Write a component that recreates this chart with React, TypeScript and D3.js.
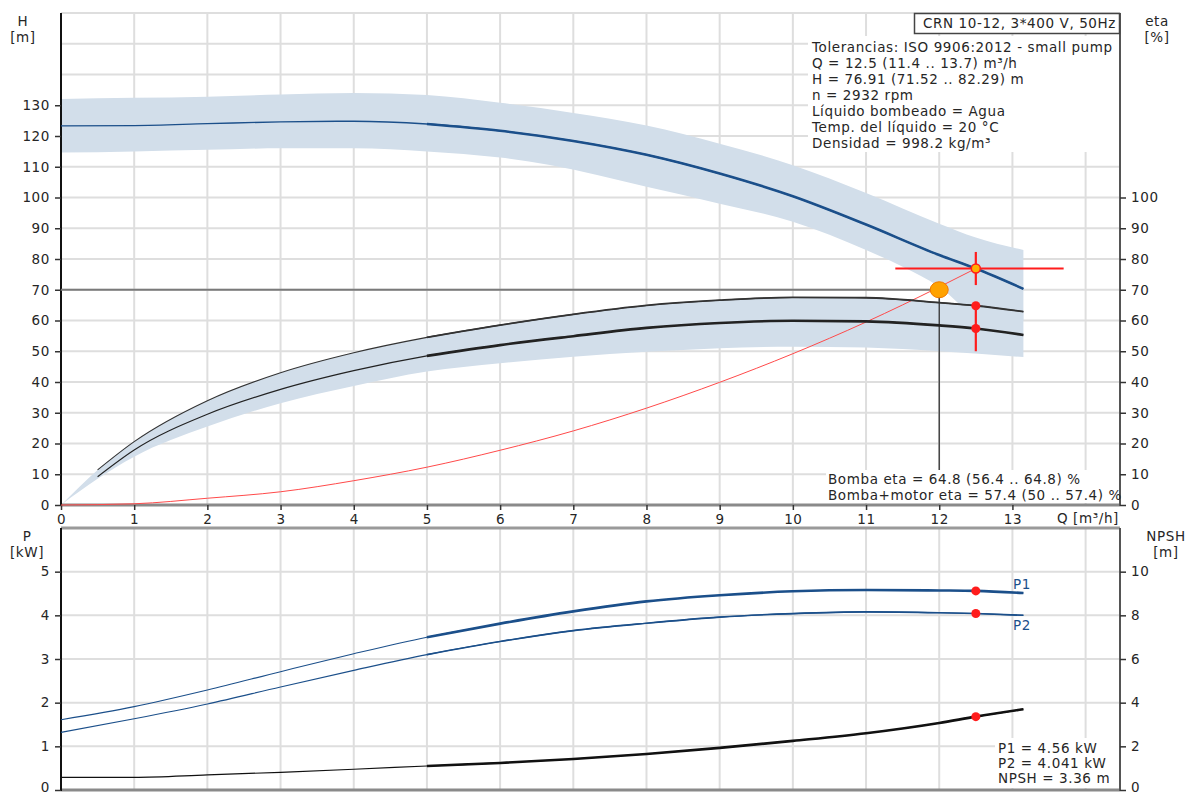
import React, { useEffect, useRef } from "react";
import * as d3 from "d3";

// ticks
const qTicks = [0, 1, 2, 3, 4, 5, 6, 7, 8, 9, 10, 11, 12, 13];
const hTicks = [0, 10, 20, 30, 40, 50, 60, 70, 80, 90, 100, 110, 120, 130];
const etaTicks = [0, 10, 20, 30, 40, 50, 60, 70, 80, 90, 100];
const pTicks = [0, 1, 2, 3, 4, 5];
const npshTicks = [0, 2, 4, 6, 8, 10];

// pump curves
const qCurve = [0, 1, 2, 3, 4, 5, 6, 7, 8, 9, 10, 11, 12, 12.5, 13.15];
const headValues = [123.3, 123.4, 124.0, 124.6, 124.8, 123.9, 121.7, 118.4, 113.9, 107.8, 100.4, 91.2, 81.3, 76.9, 70.3];
const p1Values = [1.61, 1.91, 2.29, 2.71, 3.12, 3.5, 3.81, 4.09, 4.32, 4.46, 4.55, 4.58, 4.57, 4.56, 4.51];
const p2Values = [1.32, 1.63, 1.97, 2.36, 2.74, 3.1, 3.4, 3.65, 3.82, 3.96, 4.04, 4.08, 4.06, 4.041, 4.0];
const npshValues = [0.58, 0.58, 0.69, 0.81, 0.95, 1.1, 1.24, 1.42, 1.65, 1.93, 2.25, 2.6, 3.07, 3.36, 3.7];

// head tolerance band
const qHeadUpper = [0, 1, 2, 3, 4, 5, 6, 7, 8, 9, 10, 11, 12, 12.5, 13.15];
const headUpper = [132, 132.4, 132.8, 133.5, 134, 133.3, 130.8, 127.5, 123.4, 117.5, 110.5, 101.5, 91.5, 87, 82.9];
const qHeadLower = [0, 1, 2, 3, 4, 5, 6, 6.68, 8, 9, 10, 11, 11.5, 12, 12.5, 13.15];
const headLower = [114.6, 115, 115.5, 116, 116, 115, 113, 110.6, 103.5, 98, 92.1, 82.9, 77.5, 71, 62, 60];

// efficiency curves
const qEta = [0.5, 1, 2, 3, 4, 5, 6, 7, 8, 9, 10, 11, 12, 12.5, 13.15];
const etaPump = [11.4, 20.6, 33.9, 43, 49.5, 54.5, 58.5, 62, 64.9, 66.6, 67.5, 67.4, 65.8, 64.8, 62.9];
const etaTotal = [9.2, 17.9, 29.5, 37.6, 43.7, 48.5, 52, 54.9, 57.6, 59.2, 59.9, 59.7, 58.4, 57.4, 55.3];
const qEtaLower = [0, 0.5, 1, 2, 3, 4, 5, 6, 7, 8, 9, 10, 11, 12, 13.15];
const etaLower = [0, 8.5, 15.7, 25.5, 33.1, 38.7, 43.4, 46.1, 48.2, 49.8, 51, 51.5, 51.2, 50, 48.1];

// system curve
const qSystem = [0, 1, 2, 3, 4, 5, 6, 7, 8, 9, 10, 11, 12, 12.5];
const hSystem = [0, 0.4, 2.2, 4.3, 7.9, 12.3, 17.8, 24.1, 31.5, 39.9, 49.2, 59.5, 70.9, 76.91];

// duty point
const duty = { q: 12.5, qMin: 11.4, qMax: 13.7, h: 76.91, hMin: 71.52, hMax: 82.29 };
const dutyEta = { pump: 64.8, total: 57.4, min: 50 };
const dutyPower = { p1: 4.56, p2: 4.041, npsh: 3.36 };
const opPoint = { q: 12, h: 70 };

const infoLines = [
  "Tolerancias: ISO 9906:2012 - small pump",
  "Q = 12.5 (11.4 .. 13.7) m³/h",
  "H = 76.91 (71.52 .. 82.29) m",
  "n = 2932 rpm",
  "Líquido bombeado = Agua",
  "Temp. del líquido = 20 °C",
  "Densidad = 998.2 kg/m³",
];
const etaLines = ["Bomba eta = 64.8 (56.4 .. 64.8) %", "Bomba+motor eta = 57.4 (50 .. 57.4) %"];
const powerLines = ["P1 = 4.56 kW", "P2 = 4.041 kW", "NPSH = 3.36 m"];

const FONT = "DejaVu Sans, Verdana, sans-serif";
const FSIZE = "13.5px";
const SPACING = "0.6px";
const TXT = "#262626";
const BLUE = "#1b4f8a";
const BAND = "#d2deea";
const GRID = "#dedede";
const RED = "#ff1c1c";

export default function App() {
  const ref = useRef<SVGSVGElement>(null);

  useEffect(() => {
    const width = 1189;
    const height = 796;
    const left = 61;
    const right = 1120;
    const top1 = 13, bot1 = 505;
    const top2 = 528, bot2 = 790;

    const svg = d3.select(ref.current).attr("width", width).attr("height", height);
    svg.selectAll("*").remove();

    const x = d3.scaleLinear().domain([0, 14.47]).range([left, right]);
    const yH = d3.scaleLinear().domain([0, 160]).range([bot1, top1]);
    const yP = d3.scaleLinear().domain([0, 6]).range([bot2, top2]);
    const yN = d3.scaleLinear().domain([0, 12]).range([bot2, top2]);

    const grid = svg.append("g").attr("stroke", GRID).attr("stroke-width", 2);
    for (let q = 1; q <= 14; q++) {
      grid.append("line").attr("x1", x(q)).attr("x2", x(q)).attr("y1", top1).attr("y2", bot1);
      grid.append("line").attr("x1", x(q)).attr("x2", x(q)).attr("y1", top2).attr("y2", bot2);
    }
    d3.range(10, 161, 10).forEach(v => {
      grid.append("line").attr("x1", left).attr("x2", right).attr("y1", yH(v)).attr("y2", yH(v));
    });
    d3.range(1, 6, 1).forEach(v => {
      grid.append("line").attr("x1", left).attr("x2", right).attr("y1", yP(v)).attr("y2", yP(v));
    });

    const pair = (qs: number[], vs: number[]) => qs.map((q, i) => [q, vs[i]] as [number, number]);

    // head band
    const bandLine = d3.line<[number, number]>().x(d => x(d[0])).y(d => yH(d[1])).curve(d3.curveMonotoneX);
    const upPath = bandLine(pair(qHeadUpper, headUpper)) as string;
    const lowPath = (bandLine(pair(qHeadLower, headLower).reverse()) as string).replace(/^M/, "L");
    svg.append("path").attr("d", upPath + lowPath + "Z").attr("fill", BAND);

    // eta band
    const etaUp = [[0, 0] as [number, number]].concat(pair(qEta, etaPump));
    const etaUpPath = bandLine(etaUp) as string;
    const etaLowPath = (bandLine(pair(qEtaLower, etaLower).reverse()) as string).replace(/^M/, "L");
    svg.append("path").attr("d", etaUpPath + etaLowPath + "Z").attr("fill", BAND);

    // white backgrounds behind texts
    svg.append("rect").attr("x", 808).attr("y", 36).attr("width", 311).attr("height", 116).attr("fill", "white");
    svg.append("rect").attr("x", 826).attr("y", 470).attr("width", 293).attr("height", 33).attr("fill", "white");
    svg.append("rect").attr("x", 995).attr("y", 738).attr("width", 124).attr("height", 50).attr("fill", "white");

    // axes lines
    svg.append("line").attr("x1", left).attr("x2", right).attr("y1", bot1).attr("y2", bot1).attr("stroke", "#8a8a8a").attr("stroke-width", 3);
    svg.append("line").attr("x1", left).attr("x2", right).attr("y1", top2).attr("y2", top2).attr("stroke", "#9a9a9a").attr("stroke-width", 3);
    svg.append("line").attr("x1", left).attr("x2", right).attr("y1", bot2).attr("y2", bot2).attr("stroke", "#8a8a8a").attr("stroke-width", 3);
    [[top1, bot1], [top2, bot2]].forEach(([a, b]) => {
      svg.append("line").attr("x1", left).attr("x2", left).attr("y1", a).attr("y2", b + 1).attr("stroke", "#111").attr("stroke-width", 2);
      svg.append("line").attr("x1", right).attr("x2", right).attr("y1", a).attr("y2", b + 1).attr("stroke", "#555").attr("stroke-width", 2);
    });

    const styleAxis = (g: d3.Selection<SVGGElement, unknown, null, undefined>) => {
      g.select(".domain").remove();
      g.selectAll("line").attr("stroke", "#333").attr("stroke-width", 1.5);
      g.selectAll("text").attr("fill", TXT).style("font-family", FONT).style("font-size", FSIZE).style("letter-spacing", SPACING);
    };

    svg.append("g").attr("transform", `translate(${left},0)`)
      .call(d3.axisLeft(yH).tickValues(hTicks).tickSize(6).tickPadding(5).tickFormat(d3.format("d")))
      .call(styleAxis);
    svg.append("g").attr("transform", `translate(${right},0)`)
      .call(d3.axisRight(yH).tickValues(etaTicks).tickSize(6).tickPadding(5).tickFormat(d3.format("d")))
      .call(styleAxis);
    svg.append("g").attr("transform", `translate(0,${bot1})`)
      .call(d3.axisBottom(x).tickValues(qTicks).tickSize(5).tickPadding(4).tickFormat(d3.format("d")))
      .call(styleAxis);
    const pAxis = svg.append("g").attr("transform", `translate(${left},0)`)
      .call(d3.axisLeft(yP).tickValues(pTicks).tickSize(6).tickPadding(5).tickFormat(d3.format("d")))
      .call(styleAxis);
    const nAxis = svg.append("g").attr("transform", `translate(${right},0)`)
      .call(d3.axisRight(yN).tickValues(npshTicks).tickSize(6).tickPadding(5).tickFormat(d3.format("d")))
      .call(styleAxis);
    // keep the bottom "0" labels inside the picture
    [pAxis, nAxis].forEach(g => g.selectAll<SVGTextElement, number>("text").filter(d => d === 0).attr("dy", "0.1em"));

    const label = (tx: number, ty: number, s: string, anchor = "middle", color = TXT) =>
      svg.append("text").attr("x", tx).attr("y", ty).attr("text-anchor", anchor)
        .attr("fill", color).style("font-family", FONT).style("font-size", FSIZE).style("letter-spacing", SPACING).text(s);

    label(23, 26, "H"); label(23, 42, "[m]");
    label(1157, 26, "eta"); label(1157, 42, "[%]");
    label(27, 541, "P"); label(27, 557, "[kW]");
    label(1166, 541, "NPSH"); label(1166, 557, "[m]");
    label(1057, 523, "Q [m³/h]", "start");

    // curves with thin (left) and thick (operating range) parts
    const drawCurve = (qs: number[], vs: number[], ys: d3.ScaleLinear<number, number>, color: string, thin: number, thick: number) => {
      const pts = pair(qs, vs);
      const gen = d3.line<[number, number]>().x(d => x(d[0])).y(d => ys(d[1])).curve(d3.curveMonotoneX);
      svg.append("path").attr("d", gen(pts)).attr("fill", "none").attr("stroke", color).attr("stroke-width", thin);
      svg.append("path").attr("d", gen(pts.filter(d => d[0] >= 5))).attr("fill", "none").attr("stroke", color).attr("stroke-width", thick);
    };

    // system curve
    const sysGen = d3.line<[number, number]>().x(d => x(d[0])).y(d => yH(d[1])).curve(d3.curveMonotoneX);
    svg.append("path").attr("d", sysGen(pair(qSystem, hSystem))).attr("fill", "none").attr("stroke", "#ff4a4a").attr("stroke-width", 1);

    // operating point guide lines
    svg.append("line").attr("x1", left).attr("x2", x(opPoint.q)).attr("y1", yH(opPoint.h)).attr("y2", yH(opPoint.h)).attr("stroke", "#7a7a7a").attr("stroke-width", 2);
    svg.append("line").attr("x1", x(opPoint.q)).attr("x2", x(opPoint.q)).attr("y1", yH(opPoint.h)).attr("y2", 470).attr("stroke", "#333").attr("stroke-width", 1.3);

    drawCurve(qCurve, headValues, yH, BLUE, 1.3, 2.6);
    drawCurve(qEta, etaPump, yH, "#333", 1.1, 1.8);
    drawCurve(qEta, etaTotal, yH, "#222", 1.1, 2.6);
    drawCurve(qCurve, p1Values, yP, BLUE, 1.1, 2.6);
    drawCurve(qCurve, p2Values, yP, BLUE, 1.1, 1.6);
    drawCurve(qCurve, npshValues, yN, "#111", 1.2, 2.6);

    // duty point marks
    svg.append("line").attr("x1", x(duty.qMin)).attr("x2", x(duty.qMax)).attr("y1", yH(duty.h)).attr("y2", yH(duty.h)).attr("stroke", RED).attr("stroke-width", 2.2);
    svg.append("line").attr("x1", x(duty.q)).attr("x2", x(duty.q)).attr("y1", yH(duty.hMin)).attr("y2", yH(duty.hMax)).attr("stroke", RED).attr("stroke-width", 2.2);
    svg.append("line").attr("x1", x(duty.q)).attr("x2", x(duty.q)).attr("y1", yH(dutyEta.min)).attr("y2", yH(dutyEta.pump)).attr("stroke", RED).attr("stroke-width", 2.2);
    svg.append("ellipse").attr("cx", x(opPoint.q)).attr("cy", yH(opPoint.h)).attr("rx", 9).attr("ry", 8).attr("fill", "#ffa200").attr("stroke", "#f07a00").attr("stroke-width", 1);
    svg.append("circle").attr("cx", x(duty.q)).attr("cy", yH(duty.h)).attr("r", 4.5).attr("fill", "#ffb000").attr("stroke", RED).attr("stroke-width", 1.5);
    [dutyEta.pump, dutyEta.total].forEach(v => {
      svg.append("circle").attr("cx", x(duty.q)).attr("cy", yH(v)).attr("r", 4.5).attr("fill", RED);
    });
    svg.append("circle").attr("cx", x(duty.q)).attr("cy", yP(dutyPower.p1)).attr("r", 4.5).attr("fill", RED);
    svg.append("circle").attr("cx", x(duty.q)).attr("cy", yP(dutyPower.p2)).attr("r", 4.5).attr("fill", RED);
    svg.append("circle").attr("cx", x(duty.q)).attr("cy", yN(dutyPower.npsh)).attr("r", 4.5).attr("fill", RED);

    label(1013, 589, "P1", "start", BLUE);
    label(1013, 630, "P2", "start", BLUE);

    // title box
    svg.append("rect").attr("x", 914.5).attr("y", 13.5).attr("width", 205).attr("height", 20).attr("fill", "white").attr("stroke", "#444").attr("stroke-width", 1.5);
    label(1116, 28, "CRN 10-12, 3*400 V, 50Hz", "end");

    infoLines.forEach((s, i) => label(812, 52 + i * 16, s, "start"));
    etaLines.forEach((s, i) => label(828, 484 + i * 15.5, s, "start"));
    powerLines.forEach((s, i) => label(998, 753 + i * 15, s, "start"));
  }, []);

  return (
    <svg ref={ref} style={{ position: "absolute", left: 0, top: 0, background: "white" }}></svg>
  );
}
